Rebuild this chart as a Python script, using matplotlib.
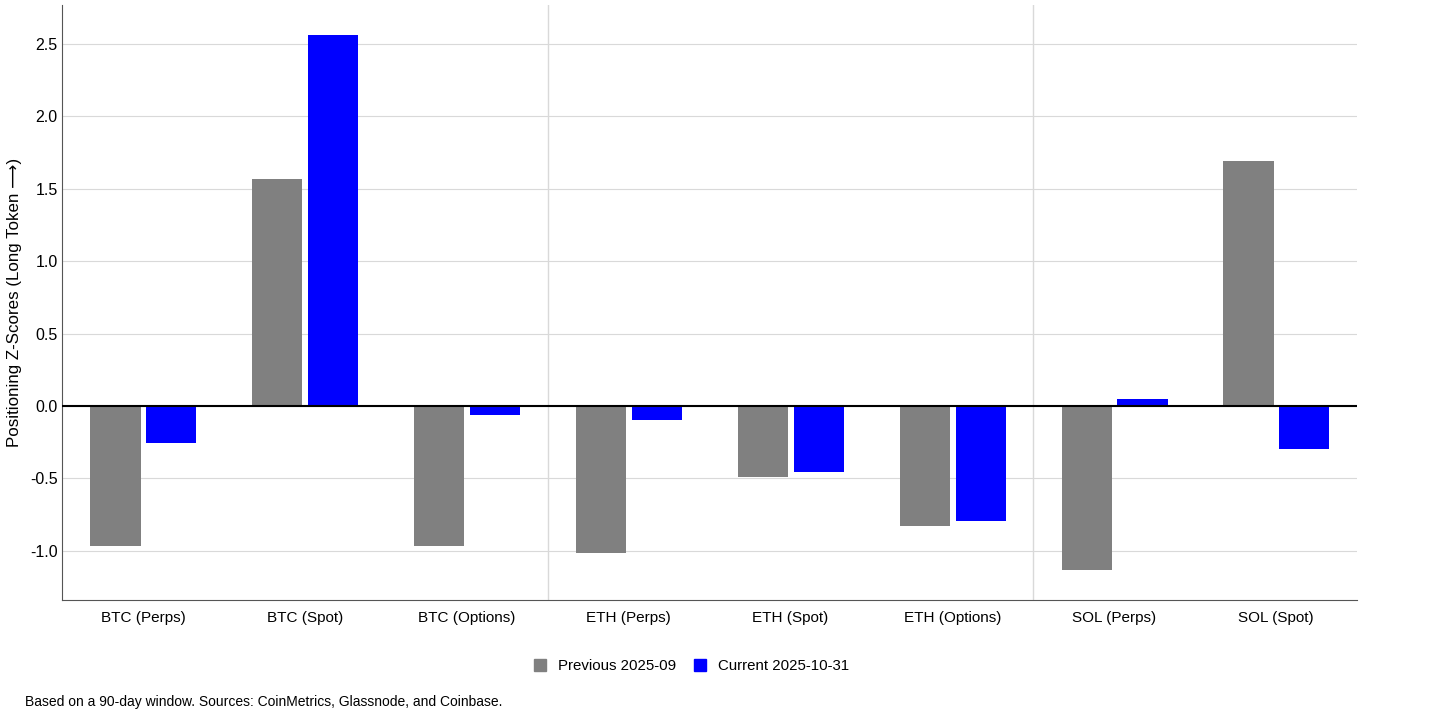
import numpy as np
import matplotlib.pyplot as plt
from matplotlib.patches import Patch

categories = ['BTC (Perps)', 'BTC (Spot)', 'BTC (Options)', 'ETH (Perps)',
              'ETH (Spot)', 'ETH (Options)', 'SOL (Perps)', 'SOL (Spot)']
previous = [-0.97, 1.57, -0.965, -1.015, -0.49, -0.83, -1.13, 1.69]
current = [-0.255, 2.56, -0.06, -0.095, -0.455, -0.795, 0.05, -0.295]
prev_label = 'Previous 2025-09'
curr_label = 'Current 2025-10-31'
note = 'Based on a 90-day window. Sources: CoinMetrics, Glassnode, and Coinbase.'
yticks = [-1.0, -0.5, 0.0, 0.5, 1.0, 1.5, 2.0, 2.5]

plt.rcParams['font.family'] = ['Liberation Sans', 'DejaVu Sans']

fig = plt.figure(figsize=(14.4, 7.2), dpi=100)
ax = fig.add_axes([62/1440, 1 - 600/720, 1295/1440, 595/720])

x = np.arange(len(categories))
w = 0.31
ax.bar(x - 0.17, previous, w, color='#808080', zorder=3)
ax.bar(x + 0.175, current, w, color='#0000ff', zorder=3)

ax.axhline(0, color='black', linewidth=1.5, zorder=4)
for sep in [2.5, 5.5]:
    ax.axvline(sep, color='#d9d9d9', linewidth=1, zorder=1)

ax.set_xlim(-0.5, 7.5)
ax.set_ylim(-1.34, 2.77)
ax.set_yticks(yticks)
ax.set_yticklabels([f'{v:.1f}' for v in yticks])
ax.set_xticks(x)
ax.set_xticklabels(categories, fontsize=11)
ax.tick_params(axis='y', length=0, labelsize=11.5, pad=3)
ax.tick_params(axis='x', length=0, pad=8)
ax.grid(axis='y', color='#d9d9d9', linewidth=0.8, zorder=0)

for s in ['top', 'right']:
    ax.spines[s].set_visible(False)
ax.spines['left'].set_color('#555555')
ax.spines['bottom'].set_color('#555555')

ax.set_ylabel('Positioning Z-Scores (Long Token \u27f6)', fontsize=12.2)
ax.yaxis.set_label_coords(-0.031, 0.5)

handles = [Patch(color='#808080', label=prev_label), Patch(color='#0000ff', label=curr_label)]
fig.legend(handles=handles, loc='center', bbox_to_anchor=(0.48, 1 - 666/720), ncol=2,
           frameon=False, fontsize=10.8, handlelength=0.8, handleheight=0.8, columnspacing=1.2)

fig.text(25/1440, 1 - 702/720, note, fontsize=10, va='center')

fig.savefig('out.png', dpi=100)
